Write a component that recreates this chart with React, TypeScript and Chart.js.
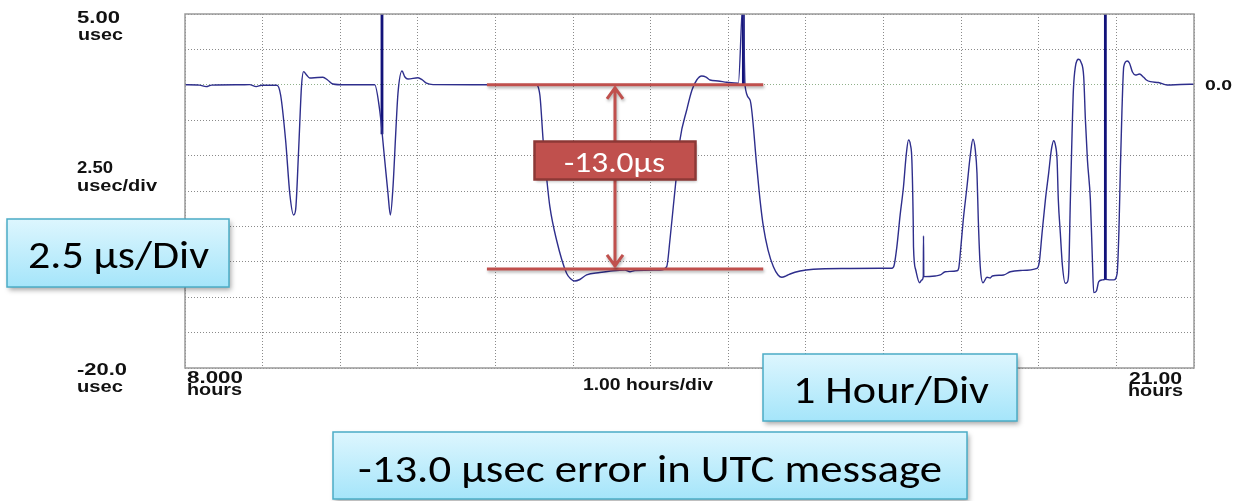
import React, { useEffect, useRef } from "react";
import { Chart, registerables } from "chart.js";

Chart.register(...registerables);

// ---- data ----
const xTickHours = [8, 9, 10, 11, 12, 13, 14, 15, 16, 17, 18, 19, 20, 21];
const yTickUsec = [5, 2.5, 0, -2.5, -5, -7.5, -10, -12.5, -15, -17.5, -20];

const traceHours = [
  8.0, 8.187, 8.273, 8.342, 8.703, 8.832, 8.918, 8.987, 9.184, 9.232, 9.296, 9.352, 9.399, 9.425, 9.464,
  9.502, 9.528, 9.567, 9.606, 9.709, 9.777, 9.837, 9.906, 10.057, 10.444, 10.508, 10.573, 10.615, 10.646,
  10.68, 10.715, 10.744, 10.796, 10.831, 10.873, 11.002, 11.059, 11.111, 11.196, 11.798, 12.52, 12.572,
  12.614, 12.662, 12.701, 12.787, 12.916, 12.972, 13.023, 13.087, 13.174, 13.345, 13.517, 13.668, 13.733,
  13.797, 14.12, 14.206, 14.248, 14.291, 14.339, 14.377, 14.464, 14.532, 14.593, 14.657, 14.713, 14.764,
  14.868, 14.98, 15.129, 15.19, 15.216, 15.28, 15.367, 15.409, 15.452, 15.512, 15.581, 15.641, 15.689,
  15.744, 15.796, 15.925, 16.096, 16.57, 16.957, 17.107, 17.137, 17.172, 17.214, 17.257, 17.292, 17.322,
  17.347, 17.365, 17.382, 17.386, 17.415, 17.464, 17.492, 17.512, 17.515, 17.519, 17.666, 17.731, 17.795,
  17.946, 17.969, 17.989, 18.027, 18.075, 18.118, 18.152, 18.182, 18.204, 18.221, 18.246, 18.281, 18.333,
  18.375, 18.401, 18.547, 18.633, 18.762, 18.978, 19.007, 19.042, 19.085, 19.127, 19.162, 19.192, 19.214,
  19.236, 19.252, 19.278, 19.304, 19.342, 19.368, 19.385, 19.407, 19.429, 19.446, 19.472, 19.514, 19.543,
  19.579, 19.601, 19.627, 19.665, 19.691, 19.708, 19.743, 19.773, 19.82, 19.859, 19.923, 19.966, 20.01,
  20.033, 20.052, 20.072, 20.095, 20.139, 20.168, 20.207, 20.246, 20.297, 20.352, 20.387, 20.439, 20.542,
  20.654, 20.826, 21.0,
];
const traceUsec = [
  0.0, -0.02, -0.13, -0.02, 0.0, 0.01, -0.13, -0.03, -0.03, -0.72, -3.9, -7.78, -9.19, -8.84, -4.6,
  -0.01, 0.93, 0.69, 0.48, 0.52, 0.53, 0.34, 0.06, 0.0, 0.0, -1.78, -5.31, -7.66, -9.19,
  -7.2, -3.43, -0.6, 0.97, 0.57, 0.41, 0.5, 0.34, 0.11, 0.01, 0.0, 0.0, -0.72,
  -3.9, -6.72, -8.61, -10.96, -13.31, -13.71, -13.86, -13.75, -13.43, -13.26, -13.13, -13.08, -13.2,
  -13.11, -13.08, -12.85, -10.96, -8.61, -6.02, -3.9, -1.78, -0.37, 0.34, 0.62, 0.55, 0.34,
  0.27, 0.18, 0.11, 6, -0.08, -1.07, -5.78, -8.14, -10.02, -11.67, -12.85, -13.43, -13.59,
  -13.5, -13.36, -13.15, -13.03, -12.97, -12.96, -12.96, -12.73, -11.43, -9.19, -7.2, -4.96, -3.9,
  -4.25, -5.31, -9.55, -11.43, -13.08, -13.98, -13.79, -13.55, -10.68, -13.55, -13.5, -13.43, -13.2,
  -13.13, -12.94, -11.9, -9.55, -7.2, -4.96, -3.85, -4.6, -6.25, -9.55, -12.85, -13.98, -13.59,
  -13.64, -13.5, -13.43, -13.2, -13.11, -12.96, -12.51, -10.49, -8.14, -6.25, -4.6, -3.95, -4.25,
  -5.31, -8.14, -10.49, -12.73, -14.02, -13.93, -13.31, -8.14, -3.43, -0.37, 1.28, 1.8, 1.61,
  0.57, -2.49, -5.31, -8.14, -12.37, -14.68, -14.56, -13.9, -13.78, -13.74, -13.78, -13.78, -13.31,
  -10.25, -5.78, -1.78, 1.28, 1.68, 1.54, 0.9, 0.69, 0.76, 0.53, 0.34, 0.22, 0.16,
  -0.01, 0.02, 0.04,
];

// thick vertical glitches (from above the plot top down to these values)
const spikeHours = [10.538, 15.194, 19.858];
const spikeTopUsec = [6, 6, 6];
const spikeBottomUsec = [-3.5, 0.0, -13.74];

// measured step annotation
const stepUpperUsec = 0;
const stepLowerUsec = -13.0;
const stepStartHours = 11.89;
const stepEndHours = 15.45;
const stepArrowHours = 13.54;
const stepLabel = "-13.0\u00b5s";

const axisLabels: [string, number, number, number, number][] = [
  ["5.00", 77, 23, 43, 17],
  ["usec", 78, 40, 45, 17],
  ["2.50", 77, 173, 36, 16.5],
  ["usec/div", 77, 191, 80, 16.5],
  ["0.0", 1205, 89.5, 27, 15],
  ["-20.0", 77, 375, 50, 17],
  ["usec", 77, 392, 46, 17],
  ["8.000", 187, 383, 56, 16.5],
  ["hours", 187, 394.5, 55, 16],
  ["1.00 hours/div", 583, 390, 130, 16],
  ["21.00", 1129, 384, 53, 16.5],
  ["hours", 1128, 396, 55, 16],
];

const calloutBoxes: [string, number, number, number, number, number, number, number][] = [
  // text, boxX, boxY, boxW, boxH, textLeft, textBaseline, textWidth
  ["2.5 \u00b5s/Div", 7, 219, 222, 68, 28, 268, 181],
  ["1 Hour/Div", 763, 354, 254, 67, 793, 402.5, 196],
  ["-13.0 \u00b5sec error in UTC message", 333, 432, 634, 67, 358, 482, 584],
];

function fitText(ctx: CanvasRenderingContext2D, text: string, left: number, baseline: number, width: number, font: string, color: string) {
  ctx.save();
  ctx.font = font;
  ctx.fillStyle = color;
  ctx.textAlign = "left";
  ctx.textBaseline = "alphabetic";
  const w = ctx.measureText(text).width;
  ctx.translate(left, baseline);
  ctx.scale(width / w, 1);
  ctx.fillText(text, 0, 0);
  ctx.restore();
}

const overlayPlugin = {
  id: "overlay",
  afterDraw(chart: any) {
    const ctx: CanvasRenderingContext2D = chart.ctx;
    const { left, right, top, bottom } = chart.chartArea;
    const xs = chart.scales.x;
    const ys = chart.scales.y;

    // plot frame
    ctx.save();
    ctx.strokeStyle = "#9a9a9a";
    ctx.lineWidth = 1.5;
    ctx.strokeRect(left, top, right - left, bottom - top);
    ctx.restore();

    // axis labels
    for (const [t, x, y, w, s] of axisLabels) {
      fitText(ctx, t, x, y, w, `bold ${s}px "Liberation Sans", Arial, sans-serif`, "#111");
    }

    // red step markers
    const yU = ys.getPixelForValue(stepUpperUsec);
    const yL = ys.getPixelForValue(stepLowerUsec);
    const x0 = xs.getPixelForValue(stepStartHours);
    const x1 = xs.getPixelForValue(stepEndHours);
    const xa = xs.getPixelForValue(stepArrowHours);
    ctx.save();
    ctx.shadowColor = "rgba(0,0,0,0.3)";
    ctx.shadowBlur = 3;
    ctx.shadowOffsetX = 1;
    ctx.shadowOffsetY = 2;
    ctx.strokeStyle = "#C0504D";
    ctx.lineWidth = 3;
    ctx.lineCap = "butt";
    ctx.beginPath();
    ctx.moveTo(x0, yU);
    ctx.lineTo(x1, yU);
    ctx.moveTo(x0, yL);
    ctx.lineTo(x1, yL);
    ctx.stroke();
    // double arrow
    ctx.beginPath();
    ctx.moveTo(xa, yU + 2);
    ctx.lineTo(xa, yL - 2);
    ctx.moveTo(xa - 8, yU + 14);
    ctx.lineTo(xa, yU + 3);
    ctx.lineTo(xa + 8, yU + 14);
    ctx.moveTo(xa - 8, yL - 14);
    ctx.lineTo(xa, yL - 3);
    ctx.lineTo(xa + 8, yL - 14);
    ctx.stroke();
    // label box
    ctx.fillStyle = "#C0504D";
    ctx.fillRect(534.5, 141.5, 161, 38);
    ctx.shadowColor = "transparent";
    ctx.strokeStyle = "#8C3836";
    ctx.lineWidth = 2.5;
    ctx.strokeRect(534.5, 141.5, 161, 38);
    ctx.restore();
    fitText(ctx, stepLabel, 564, 171.5, 101, `28px Carlito, Lato, "Open Sans", sans-serif`, "#ffffff");

    // callout boxes
    for (const [t, bx, by, bw, bh, tl, tb, tw] of calloutBoxes) {
      ctx.save();
      const g = ctx.createLinearGradient(0, by, 0, by + bh);
      g.addColorStop(0, "#DDF6FE");
      g.addColorStop(1, "#A5E5FA");
      ctx.shadowColor = "rgba(0,0,0,0.35)";
      ctx.shadowBlur = 5;
      ctx.shadowOffsetX = 2;
      ctx.shadowOffsetY = 3;
      ctx.fillStyle = g;
      ctx.fillRect(bx, by, bw, bh);
      ctx.shadowColor = "transparent";
      ctx.strokeStyle = "#4BACC6";
      ctx.lineWidth = 1.5;
      ctx.strokeRect(bx, by, bw, bh);
      ctx.restore();
      fitText(ctx, t, tl, tb, tw, `39px Carlito, Lato, "Open Sans", sans-serif`, "#000");
    }
  },
};

export default function App() {
  const ref = useRef<HTMLCanvasElement | null>(null);

  useEffect(() => {
    document.body.style.margin = "0";
    const canvas = ref.current;
    if (!canvas) return;

    const traceData = traceHours.map((h, i) => ({ x: h, y: traceUsec[i] }));
    const spikeData: { x: number; y: number | null }[] = [];
    spikeHours.forEach((h, i) => {
      spikeData.push({ x: h, y: spikeTopUsec[i] });
      spikeData.push({ x: h, y: spikeBottomUsec[i] });
      spikeData.push({ x: h + 0.001, y: null });
    });

    const chart = new Chart(canvas, {
      type: "line",
      data: {
        datasets: [
          {
            data: traceData,
            borderColor: "#2E2E8C",
            borderWidth: 1.4,
            pointRadius: 0,
            cubicInterpolationMode: "monotone",
            clip: 0,
          },
          {
            data: spikeData as any,
            borderColor: "#12127A",
            borderWidth: 2.8,
            pointRadius: 0,
            spanGaps: false,
            clip: 0,
          },
        ],
      },
      options: {
        animation: false,
        responsive: false,
        events: [],
        layout: { padding: { left: 185, right: 48, top: 14, bottom: 133 } },
        plugins: { legend: { display: false }, tooltip: { enabled: false } },
        scales: {
          x: {
            type: "linear",
            min: xTickHours[0],
            max: xTickHours[xTickHours.length - 1],
            afterBuildTicks: (s: any) => {
              s.ticks = xTickHours.map((v) => ({ value: v }));
            },
            ticks: { display: false },
            grid: { drawTicks: false, color: "#8a8a8a", lineWidth: 1 },
            border: { display: false, dash: [1, 2] },
          },
          y: {
            type: "linear",
            min: -20,
            max: 5,
            afterBuildTicks: (s: any) => {
              s.ticks = yTickUsec.map((v) => ({ value: v }));
            },
            ticks: { display: false },
            grid: {
              drawTicks: false,
              lineWidth: 1,
              color: (c: any) => (c.tick && c.tick.value === 0 ? "#8FB08A" : "#8a8a8a"),
            },
            border: { display: false, dash: [1, 2] },
          },
        },
      },
      plugins: [overlayPlugin],
    });
    return () => chart.destroy();
  }, []);

  return (
    <div style={{ width: 1242, height: 501, background: "#fff" }}>
      <canvas ref={ref} width={1242} height={501} style={{ display: "block" }} />
    </div>
  );
}
